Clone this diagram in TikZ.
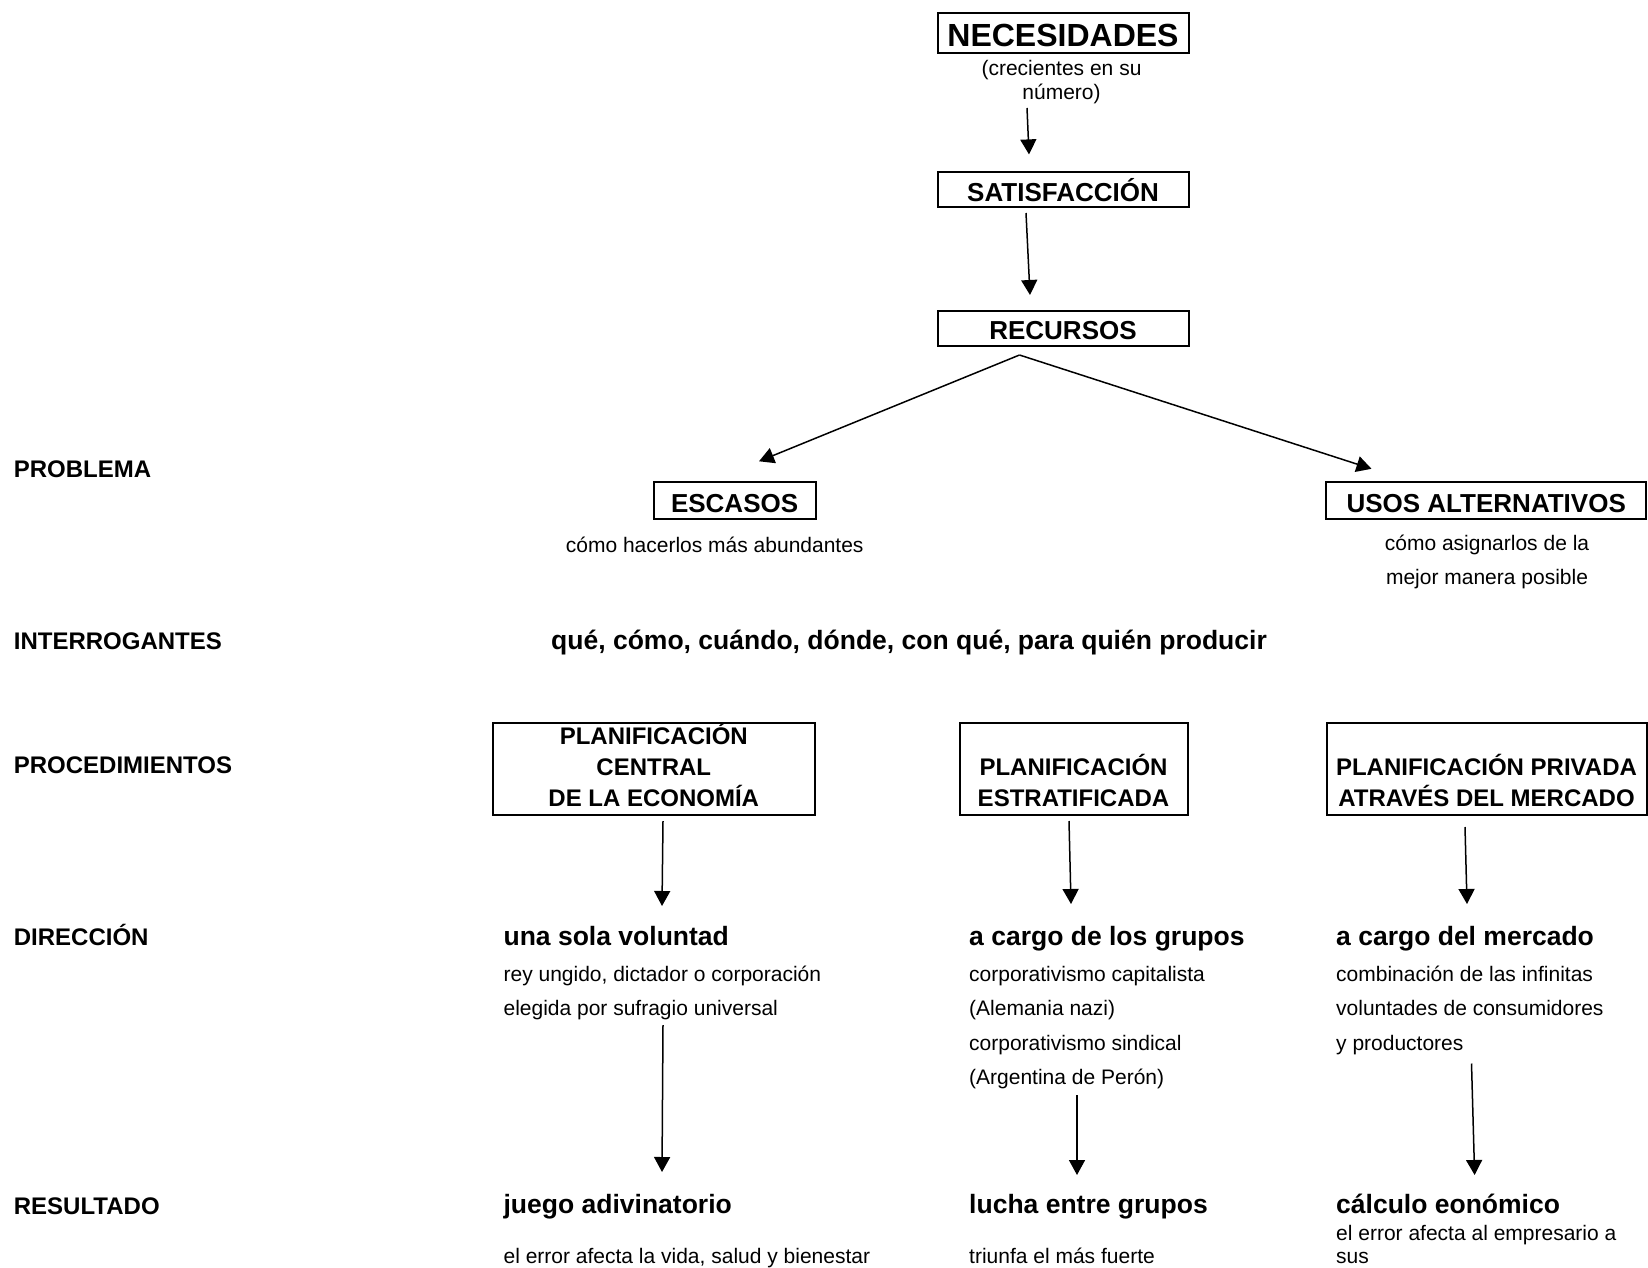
\documentclass[tikz,border=0pt]{standalone}
\usepackage{fontspec}
\setmainfont{Liberation Sans}
\usetikzlibrary{arrows.meta,calc}
\begin{document}
\tikzset{
 box/.style={draw, line width=2pt, inner sep=0pt, align=center, font=\bfseries\fontsize{26}{31}\selectfont},
 lowtext/.style={text height=#1, text depth=0pt},
 pbox/.style={box, minimum width=#1, minimum height=91.5, text depth=7pt, font=\bfseries\fontsize{24}{31}\selectfont},
 lab/.style={anchor=mid west, inner sep=0pt, yshift=-6.3pt, font=\bfseries\fontsize{24}{28}\selectfont},
 head/.style={anchor=mid west, inner sep=0pt, yshift=-6.3pt, font=\bfseries\fontsize{26.5}{30}\selectfont},
 txt/.style={anchor=mid west, inner sep=0pt, yshift=-6.3pt, font=\fontsize{21}{25}\selectfont},
 ctxt/.style={anchor=center, inner sep=0pt, yshift=-3pt, font=\fontsize{21}{25}\selectfont},
 arr/.style={line width=1.5pt, -{Triangle[length=15pt,width=16pt]}}
}
\begin{tikzpicture}[x=1pt,y=-1pt]
\useasboundingbox (0,0) rectangle (1648,1268);

% left labels
\node[lab] (lprob) at (13.7,468.7) {PROBLEMA};
\node[lab] (linter) at (13.7,641) {INTERROGANTES};
\node[lab] (lproc) at (13.7,765) {PROCEDIMIENTOS};
\node[lab] (ldir) at (13.7,936.4) {DIRECCIÓN};
\node[lab] (lres) at (13.7,1205.5) {RESULTADO};

% top chain
\node[box, lowtext=27pt, minimum width=251, minimum height=40, font=\bfseries\fontsize{32}{36}\selectfont] (nec) at (1063,32.6) {NECESIDADES};
\node[ctxt, align=center, font=\fontsize{21}{24.5}\selectfont] (necnote) at (1061.5,79.2) {(crecientes en su\\número)};
\node[box, minimum width=251, minimum height=34.6] (sat) at (1063,189.7) {SATISFACCIÓN};
\node[box, lowtext=22.8pt, minimum width=251, minimum height=34.8] (rec) at (1063,328.4) {RECURSOS};

\node[box, lowtext=22.8pt, minimum width=162, minimum height=37] (esc) at (734.6,500.8) {ESCASOS};
\node[box, lowtext=22.8pt, minimum width=320, minimum height=37] (usos) at (1486.2,500.8) {USOS ALTERNATIVOS};
\node[ctxt] (escnote) at (714.7,542.3) {cómo hacerlos más abundantes};
\node[ctxt, align=center, font=\fontsize{21}{33.7}\selectfont] (usosnote) at (1487,559.2) {cómo asignarlos de la\\mejor manera posible};

\node[ctxt, font=\bfseries\fontsize{26.5}{30}\selectfont] (preg) at (909,640) {qué, cómo, cuándo, dónde, con qué, para quién producir};

% procedures
\node[pbox=321.5] (p1) at (653.75,768.75) {PLANIFICACIÓN\\CENTRAL\\DE LA ECONOMÍA};
\node[pbox=228] (p2) at (1073.5,768.75) {\vphantom{PLANIFICACIÓN}\\PLANIFICACIÓN\\ESTRATIFICADA};
\node[pbox=320] (p3) at (1486.5,768.75) {\vphantom{PLANIFICACIÓN}\\PLANIFICACIÓN PRIVADA\\ATRAVÉS DEL MERCADO};

% direction
\node[head] (d1) at (503.4,936.4) {una sola voluntad};
\node[txt] (d1a) at (503.4,973) {rey ungido, dictador o corporación};
\node[txt] (d1b) at (503.4,1007) {elegida por sufragio universal};

\node[head] (d2) at (969,936.4) {a cargo de los grupos};
\node[txt] (d2a) at (969,973) {corporativismo capitalista};
\node[txt] (d2b) at (969,1007) {(Alemania nazi)};
\node[txt] (d2c) at (969,1041.5) {corporativismo sindical};
\node[txt] (d2d) at (969,1076) {(Argentina de Perón)};

\node[head] (d3) at (1336,936.4) {a cargo del mercado};
\node[txt] (d3a) at (1336,973) {combinación de las infinitas};
\node[txt] (d3b) at (1336,1007) {voluntades de consumidores};
\node[txt] (d3c) at (1336,1041.5) {y productores};

% results
\node[head] (r1) at (503.4,1204.5) {juego adivinatorio};
\node[txt] (r1a) at (503.4,1255) {el error afecta la vida, salud y bienestar};
\node[head] (r2) at (969,1204.5) {lucha entre grupos};
\node[txt] (r2a) at (969,1255) {triunfa el más fuerte};
\node[head] (r3) at (1336,1204.5) {cálculo eonómico};
\node[txt] (r3a) at (1336,1232) {el error afecta al empresario a};
\node[txt] (r3b) at (1336,1255) {sus};

% arrows (offsets compensate the text shift)
\draw[arr] ($(nec.south)+(-36,54.4)$) -- ($(sat.north)+(-34,-17)$);
\draw[arr] ($(sat.south)+(-37,5)$) -- ($(rec.north)+(-33,-15)$);
\draw[arr] ($(rec.south)+(-43.5,8.2)$) -- ($(esc.north)+(24.4,-20)$);
\draw[arr] ($(rec.south)+(-43.5,8.2)$) -- ($(usos.north)+(-114.7,-12.5)$);
\draw[arr] ($(p1.south)+(9.25,5.5)$) -- ($(d1.mid west)+(158.6,-36.7)$);
\draw[arr] ($(p2.south)+(-4.5,5.5)$) -- ($(d2.mid west)+(102,-38.7)$);
\draw[arr] ($(p3.south)+(-21.5,11.5)$) -- ($(d3.mid west)+(131,-38.7)$);
\draw[arr] ($(d1b.mid west)+(159.6,11.7)$) -- ($(r1.mid west)+(158.6,-38.8)$);
\draw[arr] ($(d2d.mid west)+(108,12.7)$) -- ($(r2.mid west)+(108,-35.8)$);
\draw[arr] ($(d3c.mid west)+(135.5,15.7)$) -- ($(r3.mid west)+(138.6,-35.8)$);
\end{tikzpicture}
\end{document}
